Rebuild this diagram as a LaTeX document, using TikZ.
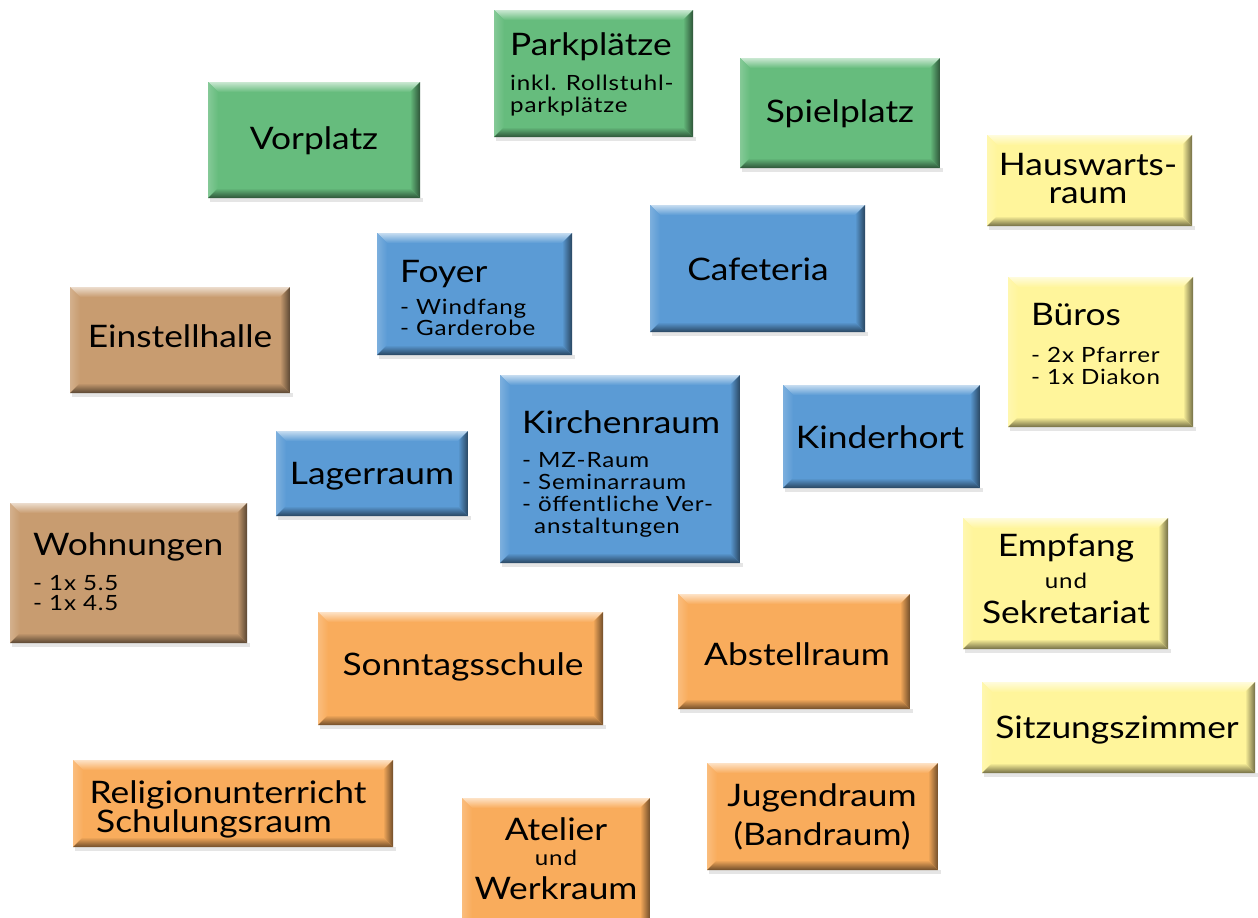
\documentclass[tikz,border=0pt]{standalone}
\usepackage{fontspec}
\setmainfont{Lato}
\newfontfamily\bigfam[FakeStretch=1.14]{Lato}
\newfontfamily\smallfam[FakeStretch=1.15,LetterSpace=4]{Lato}
\definecolor{cgreen}{RGB}{102,188,125}
\definecolor{cblue}{RGB}{91,155,213}
\definecolor{cbrown}{RGB}{200,156,112}
\definecolor{cyellow}{RGB}{255,245,155}
\definecolor{corange}{RGB}{249,172,92}
\newcommand\bevelbox[5]{%
  \fill[black,opacity=0.10] (#1+2,#4) rectangle (#3+3,#4+4);
  \fill[#5] (#1,#2) rectangle (#3,#4);
  \shade[top color=#5!35!white, bottom color=#5] (#1,#2) -- (#3,#2) -- (#3-10,#2+10) -- (#1+10,#2+10) -- cycle;
  \shade[left color=#5!80!white, right color=#5] (#1,#2) -- (#1+10,#2+10) -- (#1+10,#4-10) -- (#1,#4) -- cycle;
  \shade[left color=#5, right color=#5!45!black] (#3,#2) -- (#3,#4) -- (#3-10,#4-10) -- (#3-10,#2+10) -- cycle;
  \shade[top color=#5, bottom color=#5!45!black] (#1,#4) -- (#3,#4) -- (#3-10,#4-10) -- (#1+10,#4-10) -- cycle;
}
\tikzset{
  big/.style={inner sep=0pt, font=\bigfam\fontsize{31}{31}\selectfont},
  small/.style={inner sep=0pt, font=\smallfam\fontsize{21}{21}\selectfont},
}
\begin{document}
\begin{tikzpicture}[x=1pt,y=-1pt]
\useasboundingbox[fill=white] (0,0) rectangle (1258,918);
% green
\bevelbox{494}{10}{693}{137}{cgreen}
\node[big,anchor=base west] (park1) at (510,55) {Parkplätze};
\node[small,anchor=base west] (park2) at (510,90) {inkl. Rollstuhl-};
\node[small,anchor=base west] (park3) at (510,112) {parkplätze};
\bevelbox{208}{82}{420}{198}{cgreen}
\node[big,anchor=base] (vor) at (314,149) {Vorplatz};
\bevelbox{740}{58}{940}{168}{cgreen}
\node[big,anchor=base] (spiel) at (840,122) {Spielplatz};
% yellow
\bevelbox{987}{135}{1192}{226}{cyellow}
\node[big,anchor=base] (haus1) at (1088,175) {Hauswarts-};
\node[big,anchor=base] (haus2) at (1088,203) {raum};
\bevelbox{1008}{277}{1193}{427}{cyellow}
\node[big,anchor=base west] (bue1) at (1031,325) {Büros};
\node[small,anchor=base west] (bue2) at (1031,362) {- 2x Pfarrer};
\node[small,anchor=base west] (bue3) at (1031,384) {- 1x Diakon};
\bevelbox{963}{518}{1168}{649}{cyellow}
\node[big,anchor=base] (emp1) at (1066,556) {Empfang};
\node[small,anchor=base] (emp2) at (1066,588) {und};
\node[big,anchor=base] (emp3) at (1066,623) {Sekretariat};
\bevelbox{982}{682}{1255}{773}{cyellow}
\node[big,anchor=base] (sitz) at (1117,738) {Sitzungszimmer};
% blue
\bevelbox{377}{233}{572}{355}{cblue}
\node[big,anchor=base west] (foy1) at (400,282) {Foyer};
\node[small,anchor=base west] (foy2) at (400,314) {- Windfang};
\node[small,anchor=base west] (foy3) at (400,335) {- Garderobe};
\bevelbox{650}{205}{865}{332}{cblue}
\node[big,anchor=base] (cafe) at (758,280) {Cafeteria};
\bevelbox{500}{375}{740}{563}{cblue}
\node[big,anchor=base west] (kir1) at (522,433) {Kirchenraum};
\node[small,anchor=base west] (kir2) at (522,467) {- MZ-Raum};
\node[small,anchor=base west] (kir3) at (522,489) {- Seminarraum};
\node[small,anchor=base west] (kir4) at (522,511) {- öffentliche Ver-};
\node[small,anchor=base west] (kir5) at (534,533) {anstaltungen};
\bevelbox{783}{385}{980}{488}{cblue}
\node[big,anchor=base] (kind) at (880,448) {Kinderhort};
\bevelbox{276}{431}{468}{516}{cblue}
\node[big,anchor=base] (lager) at (372,484) {Lagerraum};
% brown
\bevelbox{70}{287}{290}{393}{cbrown}
\node[big,anchor=base] (einst) at (180,347) {Einstellhalle};
\bevelbox{10}{503}{247}{643}{cbrown}
\node[big,anchor=base west] (woh1) at (33,555) {Wohnungen};
\node[small,anchor=base west] (woh2) at (33,590) {- 1x 5.5};
\node[small,anchor=base west] (woh3) at (33,610) {- 1x 4.5};
% orange
\bevelbox{318}{612}{603}{725}{corange}
\node[big,anchor=base] (sonn) at (463,675) {Sonntagsschule};
\bevelbox{678}{594}{910}{709}{corange}
\node[big,anchor=base] (abst) at (797,665) {Abstellraum};
\bevelbox{73}{760}{393}{847}{corange}
\node[big,anchor=base] (rel1) at (228,803) {Religionunterricht};
\node[big,anchor=base] (rel2) at (214,832) {Schulungsraum};
\bevelbox{462}{798}{650}{935}{corange}
\node[big,anchor=base] (ate1) at (556,840) {Atelier};
\node[small,anchor=base] (ate2) at (556,865) {und};
\node[big,anchor=base] (ate3) at (556,899) {Werkraum};
\bevelbox{707}{763}{938}{870}{corange}
\node[big,anchor=base] (jug1) at (822,806) {Jugendraum};
\node[big,anchor=base] (jug2) at (822,845) {(Bandraum)};
\end{tikzpicture}
\end{document}
